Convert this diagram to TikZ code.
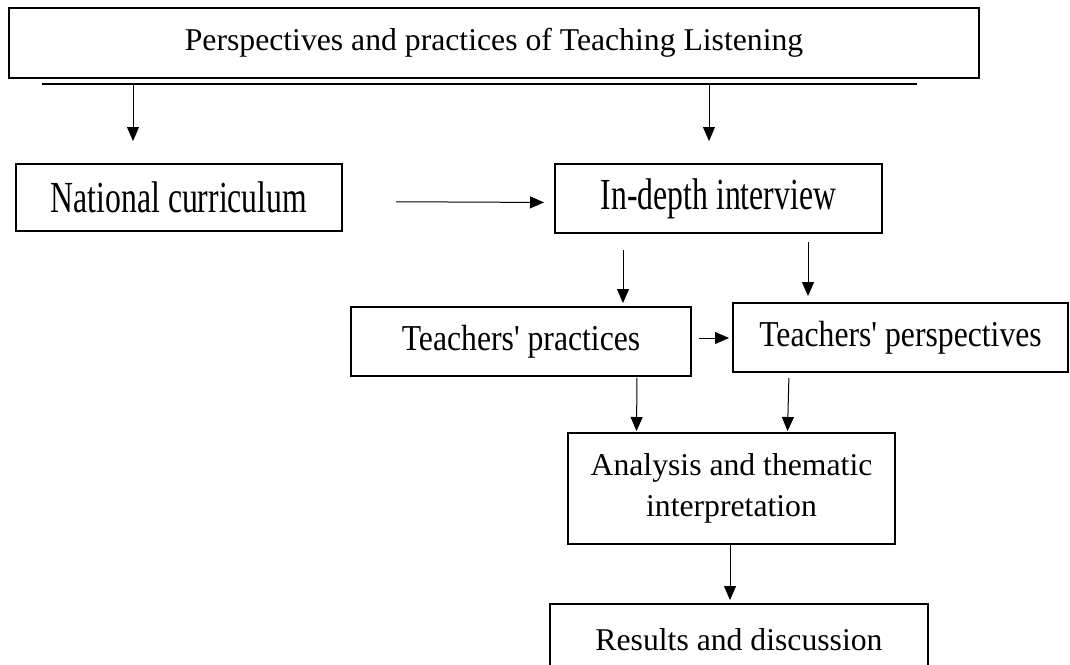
\documentclass[tikz,border=0pt]{standalone}
\usepackage{fontspec}
\setmainfont{Liberation Serif}
\usepackage{tikz}
\usetikzlibrary{shapes, arrows.meta, positioning}
\tikzstyle{block} = [draw, fill=white, rectangle, line width=2pt, inner sep=0pt, align=center]
\tikzstyle{link} = [->, line width=1pt]
\newcommand{\tall}[2]{\scalebox{1}[#1]{#2}}

\begin{document}
\begin{tikzpicture}[x=1pt, y=-1pt, >={Triangle[width=12pt,length=14pt]},
    every node/.style={font=\fontsize{31.7}{41}\selectfont}]
      \useasboundingbox (0,0) rectangle (1070,664);
      \node[block, minimum width=970pt, minimum height=70pt] (top) at (494,43) {Perspectives and practices of Teaching Listening};
      \node[block, minimum width=326pt, minimum height=67pt] (nat) at (179,197.5) {\tall{1.4}{National curriculum}};
      \node[block, minimum width=327pt, minimum height=69pt] (ind) at (718.5,198.5) {\tall{1.4}{In-depth interview}};
      \node[block, minimum width=340pt, minimum height=69pt] (prac) at (521,341.5) {\tall{1.15}{Teachers\textquotesingle{} practices}};
      \node[block, minimum width=335pt, minimum height=69pt] (persp) at (900.5,337.5) {\tall{1.15}{Teachers\textquotesingle{} perspectives}};
      \node[block, minimum width=327pt, minimum height=111pt] (ana) at (731.5,488.5) {Analysis and thematic\\interpretation};
      \node[block, minimum width=378pt, minimum height=72pt] (res) at (739,640) {Results and discussion};
      % split line under the title
      \coordinate (lineL) at (42,84);
      \coordinate (lineR) at (917,84);
      \coordinate (s1) at (133,84);
      \coordinate (e1) at (133,141);
      \coordinate (s2) at (709,84);
      \coordinate (e2) at (709,141);
      \draw[line width=1.5pt] (lineL) -- (lineR);
      \draw[link] (s1) -- (e1);
      \draw[link] (s2) -- (e2);
      \draw[link, shorten <=53pt, shorten >=10pt] ([yshift=-4pt]nat.east) -- ([yshift=-4pt]ind.west);
      \draw[link, shorten <=16pt, shorten >=3pt] ([xshift=-95.5pt]ind.south) -- ([xshift=102pt]prac.north);
      \draw[link, shorten <=8pt, shorten >=6pt] ([xshift=89.5pt]ind.south) -- ([xshift=-92.5pt]persp.north);
      \draw[link, shorten <=7pt, shorten >=3pt] ([yshift=3.5pt]prac.east) -- ([yshift=-0.5pt]persp.west);
      \draw[link, shorten <=1pt, shorten >=1pt] ([xshift=116pt]prac.south) -- ([xshift=-95pt]ana.north);
      \draw[link, shorten <=5pt, shorten >=1pt] ([xshift=-111.5pt]persp.south) -- ([xshift=56pt]ana.north);
      \draw[link, shorten >=3pt] ([xshift=-1.5pt]ana.south) -- ([xshift=-9pt]res.north);
    \end{tikzpicture}
\end{document}
